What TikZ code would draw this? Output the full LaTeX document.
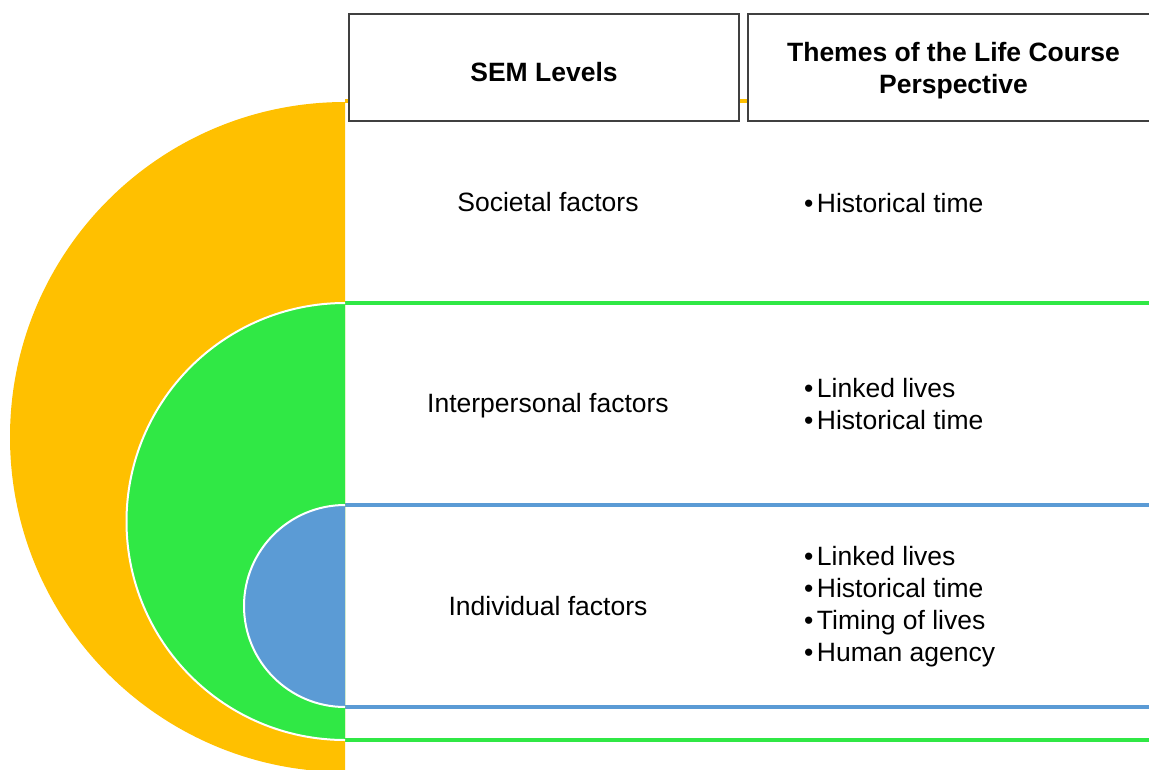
\documentclass[tikz,border=0pt]{standalone}
\usepackage{fontspec}
\setmainfont{Liberation Sans}
\definecolor{semorange}{HTML}{FFC000}
\definecolor{semgreen}{HTML}{30E845}
\definecolor{semblue}{HTML}{5B9BD5}
\definecolor{boxgray}{HTML}{404040}
\newcommand{\themebullet}{•\hspace{3.5pt}}
\begin{document}
\begin{tikzpicture}[x=1pt,y=1pt,
  level/.style={line width=3.5pt},
  ring/.style={draw=white, line width=2pt},
  headbox/.style={draw=boxgray, line width=1.3pt, fill=white},
  headtext/.style={font=\fontsize{26.5}{32}\selectfont\bfseries, align=center},
  celltext/.style={font=\fontsize{26.5}{32}\selectfont},
  themes/.style={font=\fontsize{26.5}{32}\selectfont, align=left, anchor=west, inner sep=0pt}]
\useasboundingbox (0,0) rectangle (1149,-769);
\clip (0,0) rectangle (1149,-769);

% level divider lines
\draw[level, semorange] (345,-101) -- (1160,-101);
\draw[level, semgreen] (345,-303) -- (1160,-303);
\draw[level, semblue] (345,-505) -- (1160,-505);
\draw[level, semblue] (345,-707) -- (1160,-707);
\draw[level, semgreen] (345,-740) -- (1160,-740);

% nested half discs of the socio-ecological model
\fill[semorange] (345,-102) arc[start angle=90, end angle=270, radius=335pt] -- cycle;
\fill[semgreen] (345,-303) arc[start angle=90, end angle=270, radius=218.5pt] -- cycle;
\draw[ring] (345,-303) arc[start angle=90, end angle=270, radius=218.5pt];
\fill[semblue] (345,-505) arc[start angle=90, end angle=270, radius=101pt] -- cycle;
\draw[ring] (345,-505) arc[start angle=90, end angle=270, radius=101pt];

% column headers
\draw[headbox] (349,-14) rectangle (739,-121);
\draw[headbox] (748,-14) rectangle (1160,-121);
\node[headtext] (semhead) at (544,-72) {SEM Levels};
\node[headtext] (lcphead) at (953.5,-71) {Themes of the Life Course\\Perspective};

% SEM levels
\node[celltext] (societal) at (548,-202) {Societal factors};
\node[celltext] (interpersonal) at (548,-406) {Interpersonal factors};
\node[celltext] (individual) at (548,-606) {Individual factors};

% life course themes
\node[themes] (th1) at (804,-203) {\themebullet Historical time};
\node[themes] (th2) at (804,-404) {\themebullet Linked lives\\\themebullet Historical time};
\node[themes] (th3) at (804,-607) {\themebullet Linked lives\\\themebullet Historical time\\\themebullet Timing of lives\\\themebullet Human agency};
\end{tikzpicture}
\end{document}
